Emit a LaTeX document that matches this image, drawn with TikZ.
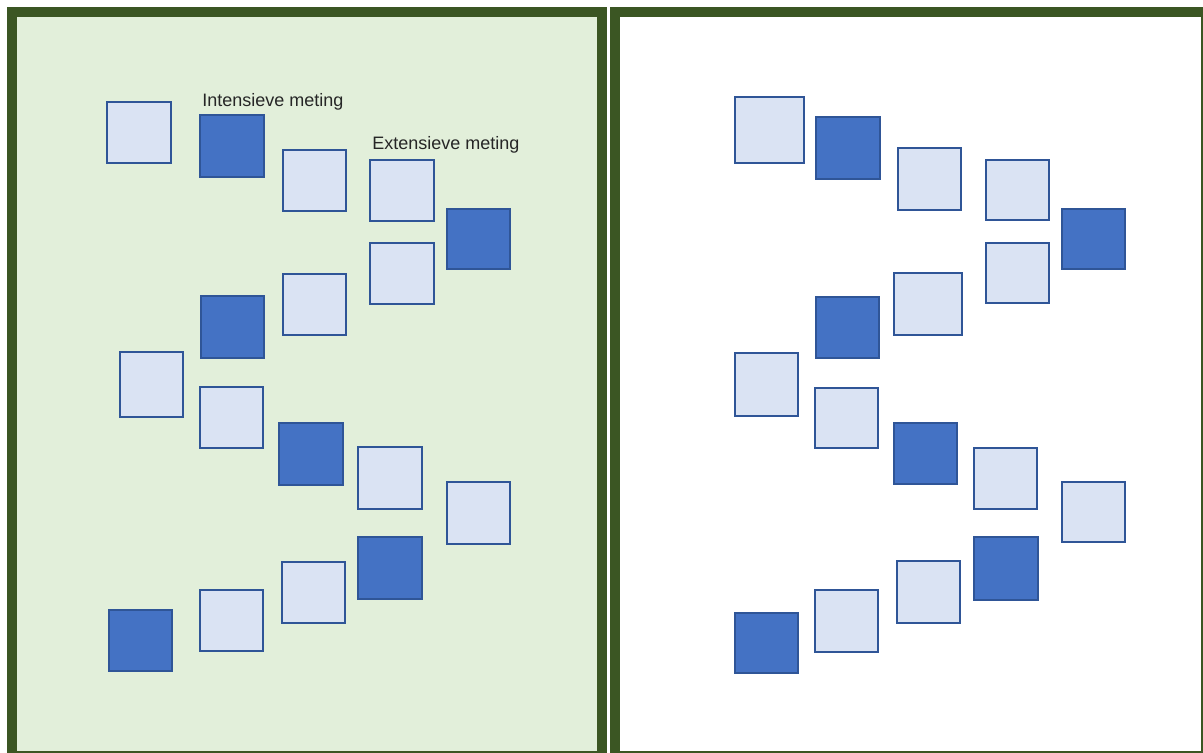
\documentclass[tikz,border=0pt]{standalone}
\usepackage{fontspec}
\setmainfont{Liberation Sans}
\usetikzlibrary{positioning}
\definecolor{framegreen}{HTML}{3B5623}
\definecolor{panelgreen}{HTML}{E2EFDA}
\definecolor{lightblue}{HTML}{DAE3F3}
\definecolor{darkblue}{HTML}{4472C4}
\definecolor{edgeblue}{HTML}{2F5597}
\tikzset{
  panel/.style={draw=framegreen, line width=5pt},
  lightsq/.style={fill=lightblue, draw=edgeblue, line width=0.6pt},
  darksq/.style={fill=darkblue, draw=edgeblue, line width=0.6pt},
  measuretext/.style={anchor=base west, inner sep=0pt, font=\fontsize{9}{11}\selectfont, text=black!85},
}

\begin{document}
\begin{tikzpicture}[x=0.5pt, y=-0.5pt]
    % Fix the page size
    \useasboundingbox (0,0) rectangle (1203,753);
    \clip (0,0) rectangle (1203,753);

    % Draw the two panels
    \draw[panel, fill=panelgreen] (12,12) rectangle (602,756);
    \draw[panel, fill=white] (615,12) rectangle (1206,756);

    % Light squares, left panel
    \foreach \xa/\ya/\xb/\yb in {107/102/171/163, 283/150/346/211, 370/160/434/221,
        370/243/434/304, 283/274/346/335, 120/352/183/417, 200/387/263/448,
        358/447/422/509, 447/482/510/544, 282/562/345/623, 200/590/263/651}
      \draw[lightsq] (\xa,\ya) rectangle (\xb,\yb);
    % Dark squares, left panel
    \foreach \xa/\ya/\xb/\yb in {200/115/264/177, 447/209/510/269, 201/296/264/358,
        279/423/343/485, 358/537/422/599, 109/610/172/671}
      \draw[darksq] (\xa,\ya) rectangle (\xb,\yb);

    % Light squares, right panel
    \foreach \xa/\ya/\xb/\yb in {735/97/804/163, 898/148/961/210, 986/160/1049/220,
        986/243/1049/303, 894/273/962/335, 735/353/798/416, 815/388/878/448,
        974/448/1037/509, 1062/482/1125/542, 897/561/960/623, 815/590/878/652}
      \draw[lightsq] (\xa,\ya) rectangle (\xb,\yb);
    % Dark squares, right panel
    \foreach \xa/\ya/\xb/\yb in {816/117/880/179, 1062/209/1125/269, 816/297/879/358,
        894/423/957/484, 974/537/1038/600, 735/613/798/673}
      \draw[darksq] (\xa,\ya) rectangle (\xb,\yb);

    % Labels
    \node[measuretext] (intensief) at (202,107) {Intensieve meting};
    \node[measuretext] (extensief) at (372,150) {Extensieve meting};
\end{tikzpicture}
\end{document}
